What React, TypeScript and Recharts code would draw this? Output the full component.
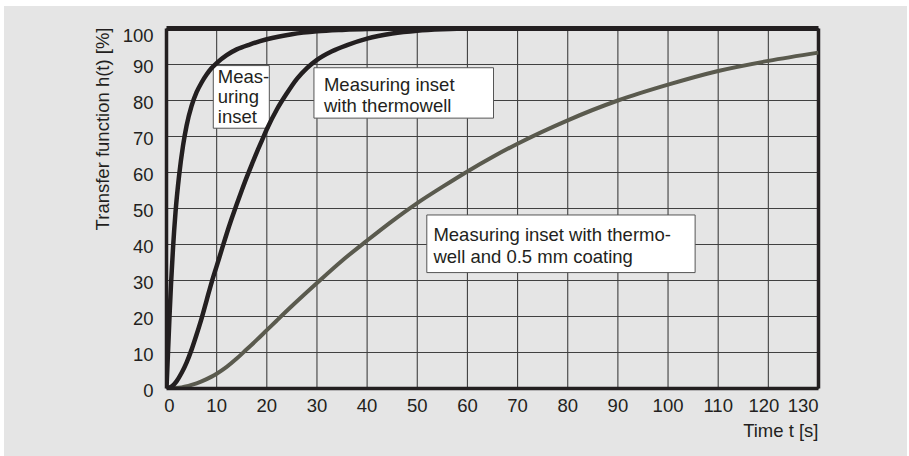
import React from 'react';
import {
  LineChart,
  Line,
  XAxis,
  YAxis,
  CartesianGrid,
  ReferenceArea,
  ReferenceLine,
} from 'recharts';

// ---- Data ----
const xTicks = [0, 10, 20, 30, 40, 50, 60, 70, 80, 90, 100, 110, 120, 130];
const yTicks = [0, 10, 20, 30, 40, 50, 60, 70, 80, 90, 100];

// Measuring inset
const insetTime = [0, 0.3, 0.6, 0.9, 1.3, 1.8, 2.5, 3.3, 4, 5, 6, 7, 8, 9, 10, 12, 14, 16.7, 20, 25, 30, 35, 40, 50, 130];
const insetValue = [0, 10, 20, 29, 39, 49, 59, 67.5, 73, 78.5, 82.3, 85, 87.2, 89, 90.4, 92.6, 94.2, 95.6, 97, 98.4, 99.2, 99.6, 99.85, 100, 100];

// Measuring inset with thermowell
const wellTime = [0, 1, 2, 3, 4, 5, 6, 7, 8, 9, 10, 11, 12, 13, 14, 15, 16, 17, 18, 19, 20, 22, 24, 26, 28, 30, 33, 36, 40, 45, 50, 55, 60, 130];
const wellValue = [0, 0.5, 2, 4.3, 7.2, 10.8, 15, 19.5, 24.5, 29.5, 34, 38.5, 43, 47.2, 51.2, 55, 58.7, 62.2, 65.6, 68.8, 72, 77.5, 82, 86, 89, 91.3, 93.7, 95.4, 97.2, 98.6, 99.4, 99.8, 100, 100];

// Measuring inset with thermowell and 0.5 mm coating
const coatTime = [0, 3, 5, 7, 9, 10, 12, 14, 16, 18, 20, 22, 25, 30, 35, 40, 45, 50, 55, 60, 65, 70, 80, 90, 100, 110, 120, 130];
const coatValue = [0, 0.3, 1, 2, 3.3, 4.1, 6, 8.3, 10.9, 13.5, 16.2, 18.9, 22.9, 29.3, 35.5, 41.1, 46.5, 51.5, 56, 60.3, 64.3, 68, 74.5, 80, 84.4, 88.2, 91, 93.3];

const yAxisTitle = 'Transfer function h(t) [%]';
const xAxisTitle = 'Time t [s]';

const insetLines = ['Meas-', 'uring', 'inset'];
const wellLines = ['Measuring inset', 'with thermowell'];
const coatLines = ['Measuring inset with thermo-', 'well and 0.5 mm coating'];

// ---- Build series ----
const toPoints = (ts: number[], vs: number[]) => ts.map((t, i) => ({ t, h: vs[i] }));
const insetData = toPoints(insetTime, insetValue);
const wellData = toPoints(wellTime, wellValue);
const coatData = toPoints(coatTime, coatValue);

// ---- Styling ----
const FONT = '"Liberation Sans", Arial, Helvetica, sans-serif';
const INK = '#231f20';
const FS = 18.5;

// annotation boxes (data units) and text layout
const annotations = [
  { lines: insetLines, x1: 9.33, x2: 20.5, y1: 72.3, y2: 89.7, padX: 4.5, first: 17.5, lh: 20 },
  { lines: wellLines, x1: 29.4, x2: 65.2, y1: 75.1, y2: 89.1, padX: 10, first: 23, lh: 21 },
  { lines: coatLines, x1: 51.9, x2: 105.4, y1: 32.2, y2: 48.2, padX: 6.6, first: 25.7, lh: 22 },
];

const makeBoxLabel = (lines: string[], padX: number, first: number, lh: number) => (props: any) => {
  const vb = props.viewBox || {};
  return (
    <text fontFamily={FONT} fontSize={FS} fill={INK}>
      {lines.map((ln, i) => (
        <tspan key={i} x={vb.x + padX} y={vb.y + first + i * lh}>
          {ln}
        </tspan>
      ))}
    </text>
  );
};

const XTick = (props: any) => {
  const { x, y, payload } = props;
  const v = payload.value;
  let anchor: 'middle' | 'end' = 'middle';
  let dx = 0;
  if (v === 0) dx = 3;
  if (v === 120) dx = -4.5;
  if (v === 130) anchor = 'end';
  return (
    <text x={x + dx} y={y} dy="0.71em" textAnchor={anchor} fontFamily={FONT} fontSize={FS} fill={INK}>
      {v}
    </text>
  );
};

const YTick = (props: any) => {
  const { x, y, payload } = props;
  const v = payload.value;
  const off = v === 100 ? 7 : 2;
  return (
    <text x={x} y={y + off} dy="0.355em" textAnchor="end" fontFamily={FONT} fontSize={FS} fill={INK}>
      {v}
    </text>
  );
};

const YTitle = (props: any) => {
  const vb = props.viewBox || {};
  const x = vb.x + 8;
  const y = vb.y - 1;
  return (
    <text
      x={x}
      y={y}
      transform={`rotate(-90, ${x}, ${y})`}
      textAnchor="end"
      fontFamily={FONT}
      fontSize={FS}
      fill={INK}
    >
      {yAxisTitle}
    </text>
  );
};

const XTitle = (props: any) => {
  const vb = props.viewBox || {};
  return (
    <text x={vb.x + vb.width} y={vb.y + 48.5} textAnchor="end" fontFamily={FONT} fontSize={FS} fill={INK}>
      {xAxisTitle}
    </text>
  );
};

export default function App() {
  return (
    <div style={{ position: 'absolute', left: 0, top: 0, width: 909, height: 456, background: '#ffffff' }}>
      <div style={{ position: 'absolute', left: 4, top: 6, width: 903, height: 450, background: '#e5e5e5' }} />
      <div style={{ position: 'absolute', left: 0, top: 0 }}>
        <LineChart
          width={909}
          height={456}
          margin={{ top: 28.5, right: 90.5, bottom: 17.5, left: 100.5 }}
        >
          <CartesianGrid stroke="#404040" strokeWidth={1.1} horizontal vertical />
          <XAxis
            type="number"
            dataKey="t"
            domain={[0, 130]}
            ticks={xTicks}
            interval={0}
            allowDataOverflow
            height={50}
            tickSize={0}
            tickMargin={10}
            tickLine={false}
            axisLine={{ stroke: INK, strokeWidth: 3.5 }}
            tick={<XTick />}
            label={XTitle}
          />
          <YAxis
            type="number"
            domain={[0, 100]}
            ticks={yTicks}
            interval={0}
            allowDataOverflow
            width={66}
            tickSize={0}
            tickMargin={13}
            tickLine={false}
            axisLine={{ stroke: INK, strokeWidth: 3.5 }}
            tick={<YTick />}
            label={YTitle}
          />
          <ReferenceLine y={100} stroke={INK} strokeWidth={5} ifOverflow="extendDomain" />
          <ReferenceLine x={130} stroke={INK} strokeWidth={3.5} ifOverflow="extendDomain" />
          <Line
            data={coatData}
            dataKey="h"
            type="monotone"
            stroke="#5a5a4e"
            strokeWidth={4}
            dot={false}
            isAnimationActive={false}
          />
          <Line
            data={wellData}
            dataKey="h"
            type="monotone"
            stroke={INK}
            strokeWidth={4.5}
            dot={false}
            isAnimationActive={false}
          />
          <Line
            data={insetData}
            dataKey="h"
            type="monotone"
            stroke={INK}
            strokeWidth={4.5}
            dot={false}
            isAnimationActive={false}
          />
          {annotations.map((a, i) => (
            <ReferenceArea
              key={i}
              x1={a.x1}
              x2={a.x2}
              y1={a.y1}
              y2={a.y2}
              fill="#ffffff"
              fillOpacity={1}
              stroke="#555555"
              strokeWidth={1}
              label={makeBoxLabel(a.lines, a.padX, a.first, a.lh)}
            />
          ))}
        </LineChart>
      </div>
    </div>
  );
}
